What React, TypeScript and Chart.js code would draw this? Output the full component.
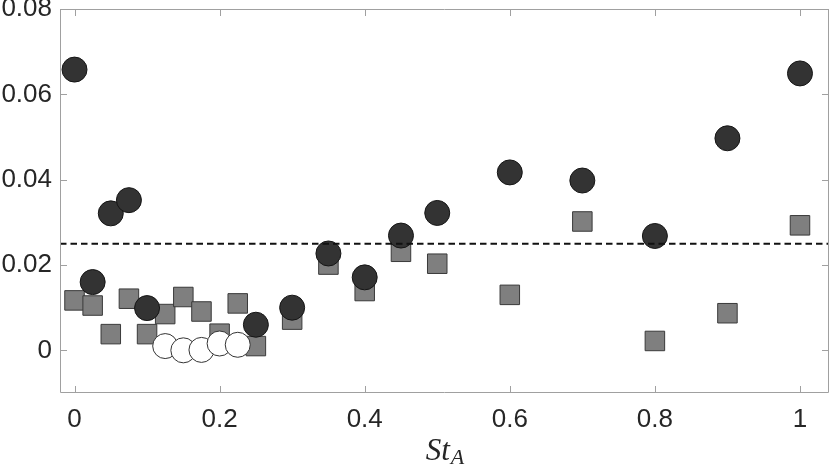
import React, { useEffect, useRef } from "react";
import { Chart, registerables } from "chart.js";

Chart.register(...registerables);

// ---- data ----
const ST_A_FILLED = [0, 0.025, 0.05, 0.075, 0.1, 0.25, 0.3, 0.35, 0.4, 0.45, 0.5, 0.6, 0.7, 0.8, 0.9, 1.0];
const FILLED_VALUES = [0.0658, 0.016, 0.0321, 0.0352, 0.0099, 0.006, 0.01, 0.0227, 0.0171, 0.0269, 0.0322, 0.0417, 0.0398, 0.0268, 0.0497, 0.0649];

const ST_A_SQUARE = [0, 0.025, 0.05, 0.075, 0.1, 0.125, 0.15, 0.175, 0.2, 0.225, 0.25, 0.3, 0.35, 0.4, 0.45, 0.5, 0.6, 0.7, 0.8, 0.9, 1.0];
const SQUARE_VALUES = [0.0117, 0.0105, 0.0038, 0.0121, 0.0038, 0.0085, 0.0125, 0.0091, 0.0039, 0.011, 0.001, 0.0072, 0.0201, 0.0139, 0.0231, 0.0203, 0.013, 0.0302, 0.0022, 0.0087, 0.0293];

const ST_A_OPEN = [0.125, 0.15, 0.175, 0.2, 0.225];
const OPEN_VALUES = [0.001, 0.0, 0.0001, 0.0016, 0.0013];

const THRESHOLD = 0.025;

const X_TICKS = [0, 0.2, 0.4, 0.6, 0.8, 1];
const X_TICK_LABELS = ["0", "0.2", "0.4", "0.6", "0.8", "1"];
const Y_TICKS = [0, 0.02, 0.04, 0.06, 0.08];
const Y_TICK_LABELS = ["0", "0.02", "0.04", "0.06", "0.08"];
const X_MIN = -0.02;
const X_MAX = 1.04;
const Y_MIN = -0.01;
const Y_MAX = 0.08;

const toPoints = (xs: number[], ys: number[]) => xs.map((x, i) => ({ x, y: ys[i] }));

const FRAME_COLOR = "#a0a0a0";
const TEXT_COLOR = "#262626";

const zeroPadding = (scale: any) => {
  scale.paddingTop = 0;
  scale.paddingBottom = 0;
  scale.paddingLeft = 0;
  scale.paddingRight = 0;
};

const framePlugin = {
  id: "matlabFrame",
  afterDatasetsDraw(chart: any) {
    const { ctx, chartArea, scales } = chart;
    const y = scales.y.getPixelForValue(THRESHOLD);
    ctx.save();
    ctx.beginPath();
    ctx.rect(chartArea.left, chartArea.top, chartArea.right - chartArea.left, chartArea.bottom - chartArea.top);
    ctx.clip();
    ctx.strokeStyle = "#111111";
    ctx.lineWidth = 2;
    ctx.setLineDash([6.5, 4]);
    ctx.beginPath();
    ctx.moveTo(chartArea.left, y);
    ctx.lineTo(chartArea.right, y);
    ctx.stroke();
    ctx.restore();
  },
  afterDraw(chart: any) {
    const { ctx, chartArea, scales } = chart;
    const { left, right, top, bottom } = chartArea;
    const tl = 7;
    ctx.save();
    ctx.strokeStyle = FRAME_COLOR;
    ctx.lineWidth = 1;
    ctx.setLineDash([]);
    ctx.beginPath();
    ctx.rect(left + 0.5, top + 0.5, right - left - 1, bottom - top - 1);
    ctx.stroke();
    ctx.beginPath();
    X_TICKS.forEach((v) => {
      const px = Math.round(scales.x.getPixelForValue(v)) + 0.5;
      ctx.moveTo(px, bottom);
      ctx.lineTo(px, bottom - tl);
      ctx.moveTo(px, top);
      ctx.lineTo(px, top + tl);
    });
    Y_TICKS.forEach((v) => {
      const py = Math.round(scales.y.getPixelForValue(v)) + 0.5;
      ctx.moveTo(left, py);
      ctx.lineTo(left + tl, py);
      ctx.moveTo(right, py);
      ctx.lineTo(right - tl, py);
    });
    ctx.stroke();

    // x-axis title: St_A (italic, with subscript)
    const mainFont = "italic 31px 'Liberation Serif', 'DejaVu Serif', serif";
    const subFont = "italic 22px 'Liberation Serif', 'DejaVu Serif', serif";
    ctx.font = mainFont;
    const wMain = ctx.measureText("St").width;
    ctx.font = subFont;
    const wSub = ctx.measureText("A").width;
    const cx = (left + right) / 2;
    const x0 = cx - (wMain + wSub) / 2;
    ctx.fillStyle = TEXT_COLOR;
    ctx.textBaseline = "alphabetic";
    ctx.textAlign = "left";
    ctx.font = mainFont;
    ctx.fillText("St", x0, 460);
    ctx.font = subFont;
    ctx.fillText("A", x0 + wMain + 1, 464);
    ctx.restore();
  },
};

export default function App() {
  const canvasRef = useRef<HTMLCanvasElement | null>(null);

  useEffect(() => {
    document.body.style.margin = "0";
    const canvas = canvasRef.current;
    if (!canvas) return;
    const tickFont = { family: "'Liberation Sans', Arial, sans-serif", size: 26 };
    const chart = new Chart(canvas, {
      type: "scatter",
      data: {
        datasets: [
          {
            label: "filled",
            data: toPoints(ST_A_FILLED, FILLED_VALUES),
            pointStyle: "circle",
            pointRadius: 12.5,
            pointBackgroundColor: "#333333",
            pointBorderColor: "#151515",
            pointBorderWidth: 1,
          },
          {
            label: "open",
            data: toPoints(ST_A_OPEN, OPEN_VALUES),
            pointStyle: "circle",
            pointRadius: 12.5,
            pointBackgroundColor: "#ffffff",
            pointBorderColor: "#333333",
            pointBorderWidth: 1,
          },
          {
            label: "square",
            data: toPoints(ST_A_SQUARE, SQUARE_VALUES),
            pointStyle: "rect",
            pointRadius: 13.8,
            pointBackgroundColor: "#7f7f7f",
            pointBorderColor: "#3a3a3a",
            pointBorderWidth: 1,
          },
        ],
      },
      options: {
        responsive: false,
        animation: false,
        events: [],
        layout: { autoPadding: false, padding: { left: 0, right: 1, top: 9, bottom: 0 } },
        plugins: { legend: { display: false }, tooltip: { enabled: false } },
        scales: {
          x: {
            type: "linear",
            min: X_MIN,
            max: X_MAX,
            grid: { display: false, drawTicks: false },
            border: { display: false },
            afterBuildTicks: (scale: any) => {
              scale.ticks = X_TICKS.map((v) => ({ value: v }));
            },
            afterFit: (scale: any) => {
              scale.height = 72;
              zeroPadding(scale);
            },
            ticks: {
              font: tickFont,
              color: TEXT_COLOR,
              padding: 11,
              maxRotation: 0,
              autoSkip: false,
              callback: (v: any) => {
                const i = X_TICKS.indexOf(Number(v));
                return i >= 0 ? X_TICK_LABELS[i] : "";
              },
            },
          },
          y: {
            type: "linear",
            min: Y_MIN,
            max: Y_MAX,
            grid: { display: false, drawTicks: false },
            border: { display: false },
            afterBuildTicks: (scale: any) => {
              scale.ticks = Y_TICKS.map((v) => ({ value: v }));
            },
            afterFit: (scale: any) => {
              scale.width = 60;
              zeroPadding(scale);
            },
            ticks: {
              font: tickFont,
              color: TEXT_COLOR,
              padding: 8,
              autoSkip: false,
              callback: (v: any) => {
                const i = Y_TICKS.indexOf(Number(v));
                return i >= 0 ? Y_TICK_LABELS[i] : "";
              },
            },
          },
        },
      },
      plugins: [framePlugin],
    });
    return () => chart.destroy();
  }, []);

  return (
    <div style={{ width: 830, height: 465 }}>
      <canvas ref={canvasRef} width={830} height={465} style={{ display: "block" }} />
    </div>
  );
}
